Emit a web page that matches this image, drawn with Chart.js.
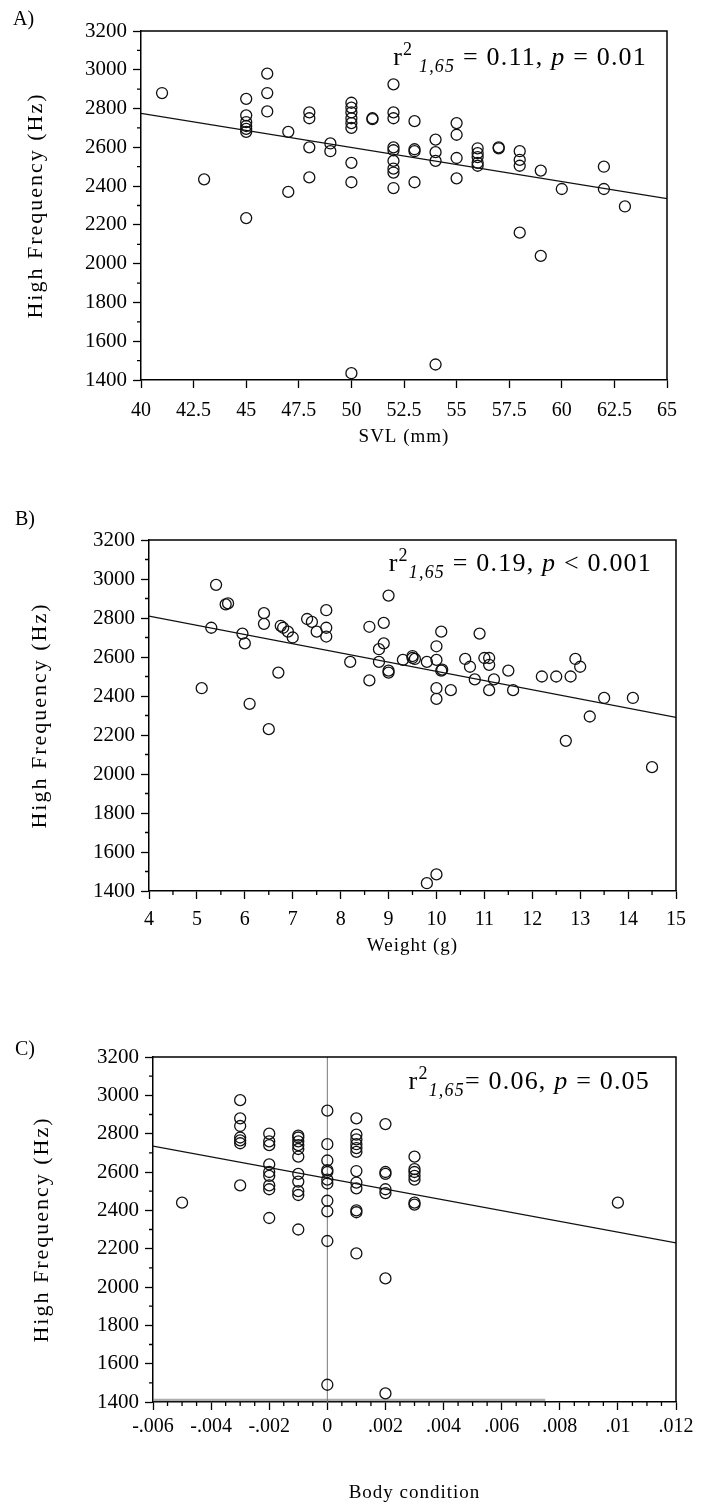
<!DOCTYPE html>
<html>
<head>
<meta charset="utf-8">
<script src="https://cdn.jsdelivr.net/npm/chart.js@4/dist/chart.umd.min.js"></script>
<style>
  html, body { margin: 0; padding: 0; background: #fff; }
  body { width: 702px; height: 1510px; position: relative; overflow: hidden; }
  canvas { position: absolute; left: 0; }
</style>
</head>
<body>
<canvas id="chartA" width="702" height="470" style="top:0"></canvas>
<canvas id="chartB" width="702" height="500" style="top:470px"></canvas>
<canvas id="chartC" width="702" height="540" style="top:970px"></canvas>
<script>
// ---- data ----
// A) SVL (mm) vs high frequency
const svlMm = [41, 43, 45, 45, 45, 45, 45, 45, 45, 46, 46, 46, 47, 47, 48, 48, 48, 48, 49, 49,
  50, 50, 50, 50, 50, 50, 50, 50, 50, 51, 51, 52, 52, 52, 52, 52, 52, 52, 52, 52,
  53, 53, 53, 53, 54, 54, 54, 54, 55, 55, 55, 55, 56, 56, 56, 56, 56, 57, 57,
  58, 58, 58, 58, 59, 59, 60, 62, 62, 63];
const svlHz = [2880, 2435, 2850, 2765, 2730, 2710, 2695, 2680, 2235, 2980, 2880, 2785, 2680, 2370, 2780, 2750, 2600, 2445, 2620, 2580,
  2830, 2805, 2780, 2750, 2725, 2700, 2520, 2420, 1435, 2750, 2745, 2925, 2780, 2750, 2600, 2585, 2530, 2490, 2470, 2390,
  2735, 2590, 2580, 2420, 2640, 2575, 2530, 1480, 2725, 2665, 2545, 2440, 2595, 2570, 2550, 2520, 2505, 2600, 2595,
  2580, 2535, 2505, 2160, 2480, 2040, 2385, 2500, 2385, 2295];
const svlFit = [{ x: 40, y: 2775 }, { x: 65, y: 2335 }];

// B) Weight (g) vs high frequency
const weightG = [5.1, 5.3, 5.4, 5.6, 5.65, 5.95, 6.0, 6.1, 6.4, 6.4, 6.5, 6.7, 6.75, 6.8, 6.9, 7.0, 7.3, 7.4, 7.5, 7.7,
  7.7, 7.7, 8.2, 8.6, 8.6, 8.8, 8.8, 8.9, 8.9, 9.0, 9.0, 9.0, 9.3, 9.5, 9.5, 9.55, 9.8, 9.8, 10.0, 10.0,
  10.0, 10.0, 10.0, 10.1, 10.1, 10.12, 10.3, 10.6, 10.7, 10.8, 10.9, 11.0, 11.1, 11.1, 11.1, 11.2, 11.5, 11.6, 12.2, 12.5,
  12.7, 12.8, 12.9, 13.0, 13.2, 13.5, 14.1, 14.5];
const weightHz = [2440, 2750, 2970, 2870, 2875, 2720, 2670, 2360, 2825, 2770, 2230, 2520, 2760, 2750, 2730, 2700, 2795, 2780, 2730, 2840,
  2750, 2705, 2575, 2755, 2480, 2640, 2575, 2775, 2670, 2915, 2530, 2520, 2585, 2595, 2605, 2590, 2575, 1440, 1485, 2655,
  2585, 2440, 2385, 2730, 2530, 2535, 2430, 2590, 2550, 2485, 2720, 2595, 2595, 2560, 2430, 2485, 2530, 2430, 2500, 2500,
  2170, 2500, 2590, 2550, 2295, 2390, 2390, 2035];
const weightFit = [{ x: 4, y: 2810 }, { x: 15, y: 2290 }];

// C) Body condition vs high frequency
const bodyCond = [-0.005,
  -0.003, -0.003, -0.003, -0.003, -0.003, -0.003, -0.003,
  -0.002, -0.002, -0.002, -0.002, -0.002, -0.002, -0.002, -0.002, -0.002,
  -0.001, -0.001, -0.001, -0.001, -0.001, -0.001, -0.001, -0.001, -0.001, -0.001, -0.001,
  0, 0, 0, 0, 0, 0, 0, 0, 0, 0, 0,
  0.001, 0.001, 0.001, 0.001, 0.001, 0.001, 0.001, 0.001, 0.001, 0.001, 0.001, 0.001,
  0.002, 0.002, 0.002, 0.002, 0.002, 0.002, 0.002,
  0.003, 0.003, 0.003, 0.003, 0.003, 0.003, 0.003,
  0.010];
const condHz = [2440,
  2975, 2880, 2840, 2780, 2765, 2750, 2530,
  2800, 2760, 2740, 2640, 2600, 2580, 2530, 2510, 2360,
  2790, 2780, 2760, 2740, 2720, 2680, 2590, 2550, 2500, 2480, 2300,
  2920, 2745, 2660, 2610, 2600, 2560, 2540, 2450, 2395, 2240, 1490,
  2880, 2795, 2770, 2745, 2725, 2705, 2605, 2545, 2515, 2400, 2390, 2175,
  2850, 2600, 2590, 2510, 2490, 2045, 1445,
  2680, 2615, 2600, 2580, 2560, 2440, 2430,
  2440];
const condFit = [{ x: -0.006, y: 2735 }, { x: 0.012, y: 2230 }];
const condZeroLine = [{ x: 0, y: 1400 }, { x: 0, y: 3200 }];
const condBaseLine = [{ x: -0.006, y: 1410 }, { x: 0.0075, y: 1410 }];

// axis ticks
const hzTicks = [1400, 1600, 1800, 2000, 2200, 2400, 2600, 2800, 3000, 3200];
const svlTicks = [40, 42.5, 45, 47.5, 50, 52.5, 55, 57.5, 60, 62.5, 65];
const weightTicks = [4, 5, 6, 7, 8, 9, 10, 11, 12, 13, 14, 15];
const condTicks = [-0.006, -0.004, -0.002, 0, 0.002, 0.004, 0.006, 0.008, 0.01, 0.012];

const SERIF = '"Liberation Serif", "Times New Roman", serif';

// draws box, minor ticks, titles and the r² annotation
const decorPlugin = {
  id: 'decor',
  afterDraw(chart, args, o) {
    const { ctx, chartArea: a } = chart;
    const xs = chart.scales.x, ys = chart.scales.y;
    ctx.save();
    ctx.strokeStyle = '#000';
    ctx.lineWidth = 1.5;
    ctx.beginPath();
    ctx.moveTo(a.left, a.top);
    ctx.lineTo(a.right, a.top);
    ctx.lineTo(a.right, a.bottom);
    ctx.stroke();

    // minor tick marks
    ctx.lineWidth = 1.3;
    ctx.beginPath();
    const yv = ys.ticks.map(t => t.value);
    for (let i = 0; i < yv.length - 1; i++) {
      for (let k = 1; k < o.yMinor; k++) {
        const py = ys.getPixelForValue(yv[i] + (yv[i + 1] - yv[i]) * k / o.yMinor);
        ctx.moveTo(a.left - 4, py);
        ctx.lineTo(a.left, py);
      }
    }
    const xv = xs.ticks.map(t => t.value);
    for (let i = 0; i < xv.length - 1; i++) {
      for (let k = 1; k < o.xMinor; k++) {
        const px = xs.getPixelForValue(xv[i] + (xv[i + 1] - xv[i]) * k / o.xMinor);
        ctx.moveTo(px, a.bottom);
        ctx.lineTo(px, a.bottom + 4);
      }
    }
    ctx.stroke();

    ctx.fillStyle = '#000';
    // panel letter
    ctx.font = `20px ${SERIF}`;
    ctx.textAlign = 'left';
    ctx.textBaseline = 'middle';
    ctx.fillText(o.letter, o.letterX, o.letterY);

    // x title
    ctx.letterSpacing = '1px';
    ctx.font = `19px ${SERIF}`;
    ctx.textAlign = 'center';
    ctx.fillText(o.xTitle, (a.left + a.right) / 2, o.xTitleY);

    // y title
    ctx.save();
    ctx.letterSpacing = '2px';
    ctx.font = `22px ${SERIF}`;
    ctx.translate(o.yTitleX, (a.top + a.bottom) / 2);
    ctx.rotate(-Math.PI / 2);
    ctx.fillText(o.yTitle, 0, 0);
    ctx.restore();

    // statistic annotation
    ctx.letterSpacing = '1.2px';
    const size = 26;
    const parts = o.stat.map(s => {
      const fs = (s.sup || s.sub) ? Math.round(size * 0.68) : size;
      const font = `${s.italic ? 'italic ' : ''}${fs}px ${SERIF}`;
      ctx.font = font;
      return { t: s.t, font, w: ctx.measureText(s.t).width, dy: s.sup ? -size * 0.38 : (s.sub ? size * 0.25 : 0) };
    });
    const total = parts.reduce((acc, p) => acc + p.w, 0);
    let x = a.right - o.statRight - total;
    const base = a.top + o.statBase;
    ctx.textAlign = 'left';
    ctx.textBaseline = 'alphabetic';
    parts.forEach(p => {
      ctx.font = p.font;
      ctx.fillText(p.t, x, base + p.dy);
      x += p.w;
    });
    ctx.letterSpacing = '0px';
    ctx.restore();
  }
};

function makePanel(id, cfg) {
  const canvas = document.getElementById(id);
  const W = canvas.width, H = canvas.height;
  const area = cfg.area;
  const tickGrid = {
    display: true, drawOnChartArea: false, drawTicks: true,
    tickLength: 8, tickColor: '#000', tickWidth: 1.3
  };
  const datasets = [
    {
      data: cfg.xs.map((x, i) => ({ x, y: cfg.ys[i] })),
      pointStyle: 'circle', pointRadius: 5.5, pointHoverRadius: 5.5,
      pointBorderWidth: 1.3, borderColor: '#111', backgroundColor: 'rgba(0,0,0,0)'
    },
    {
      data: cfg.fit, showLine: true, borderColor: '#111', borderWidth: 1.3,
      pointRadius: 0, fill: false
    }
  ].concat(cfg.extra || []);

  return new Chart(canvas, {
    type: 'scatter',
    data: { datasets },
    options: {
      responsive: false,
      animation: false,
      events: [],
      layout: {
        autoPadding: false,
        padding: { left: 0, top: area.top, right: W - area.right, bottom: 0 }
      },
      plugins: {
        legend: { display: false },
        tooltip: { enabled: false },
        decor: cfg.decor
      },
      scales: {
        x: {
          type: 'linear', min: cfg.xTicks[0], max: cfg.xTicks[cfg.xTicks.length - 1],
          afterBuildTicks: s => { s.ticks = cfg.xTicks.map(v => ({ value: v })); },
          afterFit: s => { s.height = H - area.bottom; },
          ticks: {
            font: { family: SERIF, size: 20 }, color: '#000', padding: cfg.xPad,
            maxRotation: 0, autoSkip: false, callback: cfg.xFmt
          },
          grid: tickGrid,
          border: { display: true, color: '#000', width: 1.5 }
        },
        y: {
          type: 'linear', min: 1400, max: 3200,
          afterBuildTicks: s => { s.ticks = hzTicks.map(v => ({ value: v })); },
          afterFit: s => { s.width = area.left; },
          ticks: {
            font: { family: SERIF, size: 21 }, color: '#000', padding: 6, autoSkip: false,
            callback: v => String(v)
          },
          grid: tickGrid,
          border: { display: true, color: '#000', width: 1.5 }
        }
      }
    },
    plugins: [decorPlugin]
  });
}

makePanel('chartA', {
  xs: svlMm, ys: svlHz, fit: svlFit, xTicks: svlTicks, xPad: 11,
  xFmt: v => String(v),
  area: { left: 141, right: 667, top: 31, bottom: 380 },
  decor: {
    letter: 'A)', letterX: 13, letterY: 20, xMinor: 1, yMinor: 2,
    xTitle: 'SVL (mm)', xTitleY: 437, yTitle: 'High Frequency (Hz)', yTitleX: 36,
    statRight: 20, statBase: 34,
    stat: [{ t: 'r' }, { t: '2', sup: true }, { t: ' 1,65', sub: true, italic: true },
      { t: ' = 0.11, ' }, { t: 'p', italic: true }, { t: ' = 0.01' }]
  }
});

makePanel('chartB', {
  xs: weightG, ys: weightHz, fit: weightFit, xTicks: weightTicks, xPad: 9,
  xFmt: v => String(v),
  area: { left: 149, right: 676, top: 70, bottom: 421 },
  decor: {
    letter: 'B)', letterX: 15, letterY: 50, xMinor: 2, yMinor: 2,
    xTitle: 'Weight (g)', xTitleY: 476, yTitle: 'High Frequency (Hz)', yTitleX: 40,
    statRight: 24, statBase: 31,
    stat: [{ t: 'r' }, { t: '2', sup: true }, { t: '1,65', sub: true, italic: true },
      { t: ' = 0.19, ' }, { t: 'p', italic: true }, { t: ' < 0.001' }]
  }
});

makePanel('chartC', {
  xs: bodyCond, ys: condHz, fit: condFit, xTicks: condTicks, xPad: 5,
  xFmt: v => v === 0 ? '0' : String(+v.toFixed(3)).replace('0.', '.'),
  area: { left: 153, right: 676, top: 87, bottom: 432 },
  extra: [
    { data: condZeroLine, showLine: true, borderColor: '#777', borderWidth: 1, pointRadius: 0 },
    { data: condBaseLine, showLine: true, borderColor: 'rgba(120,120,120,0.6)', borderWidth: 2.5, pointRadius: 0 }
  ],
  decor: {
    letter: 'C)', letterX: 15, letterY: 80, xMinor: 4, yMinor: 2,
    xTitle: 'Body condition', xTitleY: 523, yTitle: 'High Frequency (Hz)', yTitleX: 42,
    statRight: 26, statBase: 32,
    stat: [{ t: 'r' }, { t: '2', sup: true }, { t: '1,65', sub: true, italic: true },
      { t: '= 0.06, ' }, { t: 'p', italic: true }, { t: ' = 0.05' }]
  }
});
</script>
</body>
</html>
